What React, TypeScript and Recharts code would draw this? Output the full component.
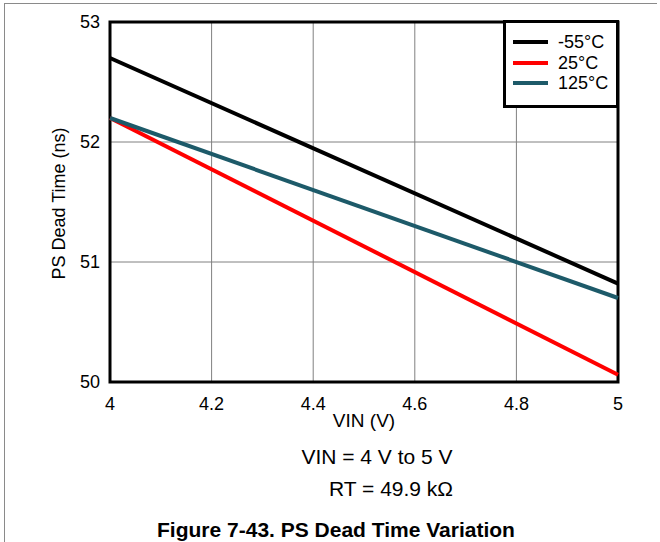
import React from 'react';
import { LineChart, Line, XAxis, YAxis, CartesianGrid, ReferenceArea, Legend } from 'recharts';

const vinValues = [4, 5];
const seriesM55 = [52.7, 50.82];
const series25 = [52.2, 50.06];
const series125 = [52.2, 50.7];
const xTicks = [4, 4.2, 4.4, 4.6, 4.8, 5];
const yTicks = [50, 51, 52, 53];

const seriesDefs = [
  { key: 'm55', name: '-55°C', color: '#000000', values: seriesM55 },
  { key: 't25', name: '25°C', color: '#ff0000', values: series25 },
  { key: 't125', name: '125°C', color: '#1d5a69', values: series125 },
];

const data = vinValues.map((v, i) => {
  const row: any = { vin: v };
  seriesDefs.forEach((s) => (row[s.key] = s.values[i]));
  return row;
});

const FONT = '"Liberation Sans", Arial, Helvetica, sans-serif';

const LegendBox = () => (
  <div
    style={{
      width: 116,
      height: 88,
      boxSizing: 'border-box',
      border: '3px solid #000',
      background: '#fff',
      paddingTop: 9,
      fontFamily: FONT,
    }}
  >
    {seriesDefs.map((s) => (
      <div key={s.key} style={{ display: 'flex', alignItems: 'center', height: 20.5 }}>
        <div style={{ marginLeft: 7, width: 35, height: 4, background: s.color }} />
        <span style={{ marginLeft: 10, fontSize: 18, color: '#000', lineHeight: '20px' }}>{s.name}</span>
      </div>
    ))}
  </div>
);

export default function App() {
  return (
    <div style={{ position: 'absolute', left: 0, top: 0, width: 660, height: 542, background: '#fff', fontFamily: FONT }}>
      <div
        style={{
          position: 'absolute',
          left: 4,
          top: 3,
          width: 653,
          height: 539,
          borderTop: '1px solid #8a8a8a',
          borderLeft: '1px solid #8a8a8a',
          boxSizing: 'border-box',
        }}
      />
      <LineChart
        width={660}
        height={542}
        data={data}
        margin={{ top: 22, right: 42, bottom: 130, left: 50 }}
        style={{ position: 'absolute', left: 0, top: 0 }}
      >
        <CartesianGrid stroke="#808080" strokeWidth={1} />
        <XAxis
          dataKey="vin"
          type="number"
          domain={[4, 5]}
          ticks={xTicks}
          tickLine={false}
          tickSize={0}
          tickMargin={15}
          axisLine={false}
          height={30}
          tick={{ fill: '#000', fontSize: 18, fontFamily: FONT }}
        />
        <YAxis
          type="number"
          domain={[50, 53]}
          ticks={yTicks}
          tickLine={false}
          tickSize={0}
          tickMargin={10}
          axisLine={false}
          width={60}
          tick={{ fill: '#000', fontSize: 18, fontFamily: FONT }}
        />
        <ReferenceArea x1={4} x2={5} y1={50} y2={53} fill="none" fillOpacity={0} stroke="#000" strokeWidth={3} />
        {seriesDefs.map((s) => (
          <Line
            key={s.key}
            type="linear"
            dataKey={s.key}
            name={s.name}
            stroke={s.color}
            strokeWidth={4}
            dot={false}
            activeDot={false}
            isAnimationActive={false}
          />
        ))}
        <Legend
          layout="vertical"
          align="center"
          verticalAlign="middle"
          content={() => <LegendBox />}
          wrapperStyle={{ position: 'absolute', left: 503, top: 20, width: 116, height: 88 }}
        />
      </LineChart>
      <svg
        width={660}
        height={542}
        style={{ position: 'absolute', left: 0, top: 0, pointerEvents: 'none' }}
      >
        <text
          x={65}
          y={203.5}
          textAnchor="middle"
          transform="rotate(-90, 65, 203.5)"
          fontSize={18}
          fontFamily={FONT}
          fill="#000"
        >
          PS Dead Time (ns)
        </text>
        <text x={364} y={427} textAnchor="middle" fontSize={19} fontFamily={FONT} fill="#000">
          VIN (V)
        </text>
        <text x={377} y={464} textAnchor="middle" fontSize={21} fontFamily={FONT} fill="#000">
          VIN = 4 V to 5 V
        </text>
        <text x={329} y={496} textAnchor="start" fontSize={21} fontFamily={FONT} fill="#000">
          RT = 49.9 kΩ
        </text>
        <text x={336} y={537} textAnchor="middle" fontSize={21} fontWeight="bold" fontFamily={FONT} fill="#000">
          Figure 7-43. PS Dead Time Variation
        </text>
      </svg>
    </div>
  );
}
